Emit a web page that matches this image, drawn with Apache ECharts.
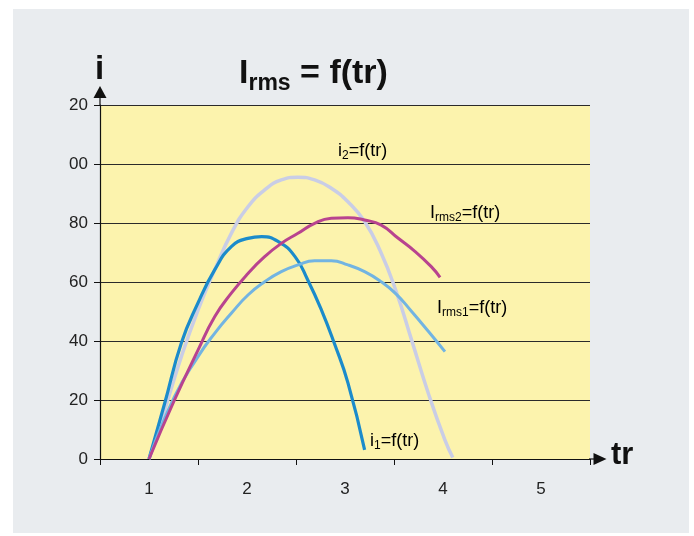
<!DOCTYPE html>
<html>
<head>
<meta charset="utf-8">
<script src="https://cdn.jsdelivr.net/npm/echarts@6/dist/echarts.min.js"></script>
<style>
  html, body { margin: 0; padding: 0; background: #ffffff; }
  #panel { position: absolute; left: 13px; top: 9px; width: 676px; height: 524px; background: #e9ecef; }
  #chart { position: absolute; left: 0; top: 0; width: 694px; height: 536px; }
</style>
</head>
<body>
<div id="panel"></div>
<div id="chart"></div>
<script>
// ---- data ----
const trCategories = ['1', '2', '3', '4', '5'];
const yTickValues = [0, 20, 40, 60, 80, 100, 120];
const yTickLabels = ['0', '20', '40', '60', '80', '00', '20'];

const i1Points = [[1,0],[1.16,18.9],[1.33,39.3],[1.5,52.9],[1.67,64.1],[1.84,72.0],[2.01,74.8],[2.15,75.4],[2.32,73.7],[2.49,68.6],[2.62,60.7],[2.76,50.5],[2.89,39.3],[3.03,25.8],[3.2,3.1]];
const i2Points = [[1,0],[1.16,16.6],[1.33,34.7],[1.5,50.5],[1.67,64.1],[1.84,76.5],[2.01,85.5],[2.18,91.2],[2.35,94.6],[2.52,95.5],[2.69,94.6],[2.86,91.8],[3.03,87.2],[3.2,80.5],[3.36,70.5],[3.52,57.0],[3.68,40.3],[3.85,22.3],[4.02,6.4],[4.1,0.5]];
const irms2Points = [[1,0],[1.26,20.0],[1.5,36.9],[1.67,48.2],[1.84,56.2],[2.01,62.9],[2.18,68.6],[2.35,73.1],[2.52,76.5],[2.69,79.9],[2.86,81.6],[3.03,81.8],[3.2,81.0],[3.37,79.3],[3.54,74.9],[3.71,70.5],[3.88,65.2],[3.97,61.6]];
const irms1Points = [[1,0],[1.26,21.1],[1.5,34.7],[1.67,42.6],[1.84,49.4],[2.01,55.6],[2.18,60.1],[2.35,63.5],[2.52,65.8],[2.69,67.2],[2.86,67.2],[3.03,65.8],[3.2,63.5],[3.36,60.3],[3.52,56.0],[3.68,50.0],[3.85,43.3],[4.02,36.4]];

const FONT = "'Liberation Sans', Arial, sans-serif";
const chart = echarts.init(document.getElementById('chart'), null, { renderer: 'canvas' });

function labelRich(size) {
  return {
    a: { fontSize: size, fontFamily: FONT, color: '#222', lineHeight: 21 },
    s: { fontSize: Math.round(size * 0.68), fontFamily: FONT, color: '#222', lineHeight: 12, verticalAlign: 'bottom' }
  };
}

const option = {
  backgroundColor: 'transparent',
  animation: false,
  title: {
    left: 239, top: 53, padding: 0,
    text: '{a|I}{s|rms}{a| = f(tr)}',
    textStyle: {
      rich: {
        a: { fontSize: 34, fontWeight: 'bold', fontFamily: FONT, color: '#111', lineHeight: 42 },
        s: { fontSize: 23, fontWeight: 'bold', fontFamily: FONT, color: '#111', lineHeight: 23, verticalAlign: 'bottom' }
      }
    }
  },
  grid: {
    left: 100, right: 104, top: 105, bottom: 77,
    show: true, backgroundColor: '#fcf3ad', borderWidth: 0
  },
  xAxis: [
    {
      type: 'category', data: trCategories, boundaryGap: true,
      axisLine: { show: true, lineStyle: { color: '#111', width: 1.2 }, symbol: ['none', 'triangle'], symbolSize: [12, 13], symbolOffset: [0, 10] },
      axisTick: { show: true, length: 6, lineStyle: { color: '#111' } },
      axisLabel: { margin: 22, fontSize: 17, fontFamily: FONT, color: '#222' },
      splitLine: { show: false }
    },
    { type: 'value', min: 0.5, max: 5.5, show: false }
  ],
  yAxis: {
    type: 'value', min: 0, max: 120, interval: 20,
    axisLine: { show: true, lineStyle: { color: '#111', width: 1.2 }, symbol: ['none', 'triangle'], symbolSize: [13, 12], symbolOffset: [0, 13] },
    axisTick: { show: true, length: 6, lineStyle: { color: '#111' } },
    axisLabel: {
      margin: 12, fontSize: 17, fontFamily: FONT, color: '#222',
      formatter: function (v) { const k = yTickValues.indexOf(v); return k >= 0 ? yTickLabels[k] : ''; }
    },
    splitLine: { show: true, lineStyle: { color: '#2a2a2a', width: 1 } }
  },
  series: [
    { name: 'i2', type: 'line', xAxisIndex: 1, data: i2Points, smooth: 0.5, showSymbol: false, lineStyle: { color: '#c9cde6', width: 3.5 } },
    { name: 'i1', type: 'line', xAxisIndex: 1, data: i1Points, smooth: 0.5, showSymbol: false, lineStyle: { color: '#1b8bcb', width: 3.2 } },
    { name: 'Irms1', type: 'line', xAxisIndex: 1, data: irms1Points, smooth: 0.5, showSymbol: false, lineStyle: { color: '#72b4e2', width: 3 } },
    { name: 'Irms2', type: 'line', xAxisIndex: 1, data: irms2Points, smooth: 0.5, showSymbol: false, lineStyle: { color: '#b8438f', width: 3 } }
  ],
  graphic: [
    { type: 'line', shape: { x1: 100, y1: 106, x2: 100, y2: 94 }, style: { stroke: '#111', lineWidth: 1.2 } },
    { type: 'line', shape: { x1: 589, y1: 459, x2: 598, y2: 459 }, style: { stroke: '#111', lineWidth: 1.2 } },
    { type: 'text', left: 95, top: 53, style: { text: 'i', font: 'bold 33px ' + FONT, fill: '#111' } },
    { type: 'text', left: 611, top: 440, style: { text: 'tr', font: 'bold 31px ' + FONT, fill: '#111' } },
    { type: 'text', left: 338, top: 142, style: { text: '{a|i}{s|2}{a|=f(tr)}', rich: labelRich(18) } },
    { type: 'text', left: 430, top: 204, style: { text: '{a|I}{s|rms2}{a|=f(tr)}', rich: labelRich(18) } },
    { type: 'text', left: 437, top: 299, style: { text: '{a|I}{s|rms1}{a|=f(tr)}', rich: labelRich(18) } },
    { type: 'text', left: 370, top: 432, style: { text: '{a|i}{s|1}{a|=f(tr)}', rich: labelRich(18) } }
  ]
};
chart.setOption(option);
</script>
</body>
</html>
